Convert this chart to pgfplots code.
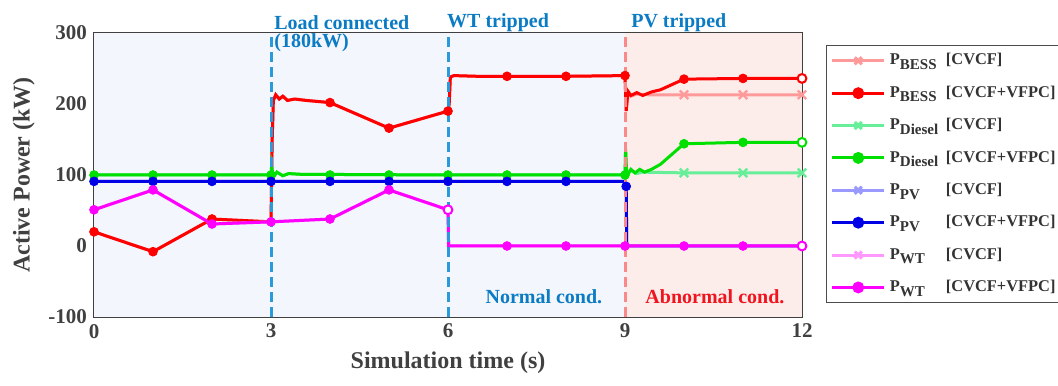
\documentclass[border=0pt]{standalone}
\usepackage{pgfplots}
\pgfplotsset{compat=1.18}
\usepackage{fontspec}
\setmainfont{Liberation Serif}
\definecolor{bess}{HTML}{FF0000}
\definecolor{bessL}{HTML}{FF9A9A}
\definecolor{dies}{HTML}{00E000}
\definecolor{diesL}{HTML}{66EE99}
\definecolor{pv}{HTML}{0000E6}
\definecolor{pvL}{HTML}{9999FF}
\definecolor{wt}{HTML}{FF00FF}
\definecolor{wtL}{HTML}{FF99FF}
\definecolor{annblue}{HTML}{0B7BC4}
\definecolor{dashblue}{HTML}{2A9ADB}
\definecolor{dashred}{HTML}{FA8A8A}
\definecolor{bgblue}{HTML}{F3F6FC}
\definecolor{bgpink}{HTML}{FCEDEA}
\definecolor{abred}{HTML}{F0141E}
\newcommand{\Pl}[1]{\makebox[28pt][l]{P\raisebox{-0.6ex}{\fontsize{7.5}{8}\selectfont #1}}}
\begin{document}
\begin{tikzpicture}
\begin{axis}[
  set layers,
  clip=false,
  scale only axis, width=354pt, height=142pt,
  xmin=0, xmax=12, ymin=-100, ymax=300,
  xtick={0,3,6,9,12}, ytick={-100,0,100,200,300},
  minor x tick num=5, minor y tick num=4,
  grid=major, major grid style={draw=gray!22, line width=0.4pt},
  axis line style={draw=black!75, line width=0.8pt},
  tick style={draw=black!75, line width=0.6pt},
  major tick length=4pt, minor tick length=2.5pt,
  tick label style={font=\bfseries\fontsize{10.5}{12}\selectfont, text=black!75},
  /pgf/number format/assume math mode=true,
  xlabel={Simulation time (s)}, ylabel={Active Power (kW)},
  label style={font=\bfseries\fontsize{12}{14}\selectfont, text=black!75},
  legend style={at={(1,1)}, anchor=north west, xshift=12pt, yshift=-6pt,
    draw=black!70, line width=0.6pt, fill=white,
    font=\bfseries\fontsize{8.2}{10}\selectfont, text=black!80,
    row sep=5pt, inner sep=2pt, cells={anchor=west}},
  legend image code/.code={\draw[mark repeat=2,mark phase=2,#1] plot coordinates {(0cm,0cm)(0.46cm,0cm)(0.92cm,0cm)};},
]
\fill[bgblue, on layer=axis background] (axis cs:0,-100) rectangle (axis cs:9,300);
\fill[bgpink, on layer=axis background] (axis cs:9,-100) rectangle (axis cs:12,300);

% BESS CVCF
\addplot[bessL, line width=1.5pt, forget plot] coordinates {(0,20)(1,-8)(2,38)(3,34)(3.02,150)(3.04,205)(3.08,213)(3.14,207)(3.2,211)(3.28,205)(3.4,207)(3.6,205)(4,202)(5,166)(6,190)(6.02,200)(6.04,238)(6.1,240)(6.5,239)(7,239)(8,239)(9,240)(9.02,190)(9.05,216)(9.1,211)(9.2,214)(9.4,213)(10,213)(11,213)(12,213)};
\addplot[bessL, only marks, mark=x, mark size=3pt, line width=1.2pt, forget plot] coordinates {(10,213)(11,213)(12,213)};
% BESS CVCF+VFPC
\addplot[bess, line width=1.5pt, forget plot] coordinates {(0,20)(1,-8)(2,38)(3,34)(3.02,150)(3.04,205)(3.08,213)(3.14,207)(3.2,211)(3.28,205)(3.4,207)(3.6,205)(4,202)(5,166)(6,190)(6.02,200)(6.04,238)(6.1,240)(6.5,239)(7,239)(8,239)(9,240)(9.02,190)(9.05,218)(9.1,212)(9.2,216)(9.3,212)(9.45,217)(9.6,220)(10,235)(11,236)(12,236)};
\addplot[bess, only marks, mark=*, mark size=2.2pt, forget plot] coordinates {(0,20)(1,-8)(2,38)(4,202)(5,166)(6,190)(7,239)(8,239)(9,240)(10,235)(11,236)};
\addplot[bess, only marks, mark=*, mark size=2.2pt, line width=1pt, mark options={fill=white}, forget plot] coordinates {(12,236)};
% Diesel CVCF
\addplot[diesL, line width=1.5pt, forget plot] coordinates {(0,100)(3,100)(3.01,112)(3.04,97)(3.1,104)(3.2,99)(3.3,102)(3.5,101)(6,100)(9,100)(9.01,136)(9.03,99)(9.1,106)(9.2,102)(9.3,104)(10,103)(11,103)(12,103)};
\addplot[diesL, only marks, mark=x, mark size=3pt, line width=1.2pt, forget plot] coordinates {(10,103)(11,103)(12,103)};
% Diesel CVCF+VFPC
\addplot[dies, line width=1.5pt, forget plot] coordinates {(0,100)(3,100)(3.01,112)(3.04,97)(3.1,104)(3.2,99)(3.3,102)(3.5,101)(6,100)(9,100)(9.01,136)(9.03,99)(9.1,108)(9.17,103)(9.25,108)(9.33,104)(9.45,108)(9.6,115)(10,144)(11,146)(12,146)};
\addplot[dies, only marks, mark=*, mark size=2.2pt, forget plot] coordinates {(0,100)(1,100)(2,100)(3,100)(4,100)(5,100)(6,100)(7,100)(8,100)(9,100)(10,144)(11,146)};
\addplot[dies, only marks, mark=*, mark size=2.2pt, line width=1pt, mark options={fill=white}, forget plot] coordinates {(12,146)};
% PV CVCF
\addplot[pvL, line width=1.5pt, forget plot] coordinates {(0,91)(9,91)(9.02,84)(9.03,0)(12,0)};
% PV CVCF+VFPC
\addplot[pv, line width=1.5pt, forget plot] coordinates {(0,91)(9,91)(9.02,84)(9.03,0)(12,0)};
\addplot[pv, only marks, mark=*, mark size=2.2pt, forget plot] coordinates {(0,91)(1,91)(2,91)(3,91)(4,91)(5,91)(6,91)(7,91)(8,91)(9.02,84)};
% WT CVCF
\addplot[wtL, line width=1.5pt, forget plot] coordinates {(0,51)(1,79)(2,31)(3,34)(4,38)(5,79)(6,51)(6.01,0)(12,0)};
% WT CVCF+VFPC
\addplot[wt, line width=1.5pt, forget plot] coordinates {(0,51)(1,79)(2,31)(3,34)(4,38)(5,79)(6,51)(6.01,0)(12,0)};
\addplot[wt, only marks, mark=*, mark size=2.2pt, forget plot] coordinates {(0,51)(1,79)(2,31)(3,34)(4,38)(5,79)(7,0)(8,0)(9,0)(10,0)(11,0)};
\addplot[wt, only marks, mark=*, mark size=2.2pt, line width=1pt, mark options={fill=white}, forget plot] coordinates {(6,51)(12,0)};

% event lines (on top of the data)
\draw[dashblue, line width=1.5pt, dash pattern=on 5pt off 2.5pt] (axis cs:3,-100) -- (axis cs:3,300);
\draw[dashblue, line width=1.5pt, dash pattern=on 5pt off 2.5pt] (axis cs:6,-100) -- (axis cs:6,300);
\draw[dashred, line width=1.5pt, dash pattern=on 5pt off 2.5pt] (axis cs:9,-100) -- (axis cs:9,300);

% annotations
\node[anchor=west, inner sep=0, text=annblue, font=\bfseries\fontsize{10}{12}\selectfont] at (axis cs:3.05,315) {Load connected};
\node[anchor=west, inner sep=0, text=annblue, font=\bfseries\fontsize{10}{12}\selectfont] at (axis cs:3.05,286) {(180kW)};
\node[anchor=west, inner sep=0, text=annblue, font=\bfseries\fontsize{10}{12}\selectfont] at (axis cs:5.98,315) {WT tripped};
\node[anchor=west, inner sep=0, text=annblue, font=\bfseries\fontsize{10}{12}\selectfont] at (axis cs:9.1,315) {PV tripped};
\node[anchor=west, inner sep=0, text=annblue, font=\bfseries\fontsize{10}{12}\selectfont] at (axis cs:6.63,-71) {Normal cond.};
\node[anchor=west, inner sep=0, text=abred, font=\bfseries\fontsize{10}{12}\selectfont] at (axis cs:9.34,-71) {Abnormal cond.};

% legend
\addlegendimage{bessL, line width=1.5pt, mark=x, mark size=2.5pt}
\addlegendentry{\Pl{BESS}[CVCF]}
\addlegendimage{bess, line width=1.5pt, mark=*, mark size=2.2pt}
\addlegendentry{\Pl{BESS}[CVCF+VFPC]}
\addlegendimage{diesL, line width=1.5pt, mark=x, mark size=2.5pt}
\addlegendentry{\Pl{Diesel}[CVCF]}
\addlegendimage{dies, line width=1.5pt, mark=*, mark size=2.2pt}
\addlegendentry{\Pl{Diesel}[CVCF+VFPC]}
\addlegendimage{pvL, line width=1.5pt, mark=x, mark size=2.5pt}
\addlegendentry{\Pl{PV}[CVCF]}
\addlegendimage{pv, line width=1.5pt, mark=*, mark size=2.2pt}
\addlegendentry{\Pl{PV}[CVCF+VFPC]}
\addlegendimage{wtL, line width=1.5pt, mark=x, mark size=2.5pt}
\addlegendentry{\Pl{WT}[CVCF]}
\addlegendimage{wt, line width=1.5pt, mark=*, mark size=2.2pt}
\addlegendentry{\Pl{WT}[CVCF+VFPC]}
\end{axis}
\pgfresetboundingbox
\path[use as bounding box] ([shift={(-47pt,-34pt)}]current axis.south west) rectangle ([shift={(482pt,158.5pt)}]current axis.south west);
\end{tikzpicture}
\end{document}
